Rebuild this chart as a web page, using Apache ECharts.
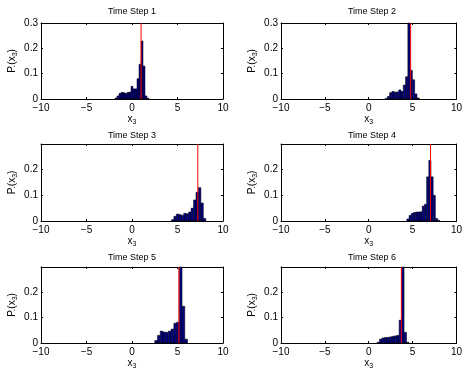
<!DOCTYPE html>
<html><head><meta charset="utf-8">
<script src="https://cdn.jsdelivr.net/npm/echarts@6/dist/echarts.min.js"></script>
<style>html,body{margin:0;padding:0;background:#fff}#c{width:465px;height:371px}</style>
</head><body><div id="c"></div>
<script>
// ---- data ----
const titles = ['Time Step 1', 'Time Step 2', 'Time Step 3', 'Time Step 4', 'Time Step 5', 'Time Step 6'];
const xTicks = [-10, -5, 0, 5, 10];
const yTicks = [0, 0.1, 0.2, 0.3];
const binStarts = [-1.87, 1.86, 4.33, 4.35, 2.5, 0.95];
const binWidths = [0.22, 0.26, 0.27, 0.25, 0.3, 0.28];
const counts1 = [0.004, 0.012, 0.022, 0.026, 0.025, 0.022, 0.026, 0.027, 0.05, 0.04, 0.04, 0.08, 0.137, 0.229, 0.13, 0.012, 0.003];
const counts2 = [0.002, 0.01, 0.025, 0.03, 0.027, 0.028, 0.036, 0.03, 0.055, 0.088, 0.4, 0.113, 0.076, 0.02, 0.004];
const counts3 = [0.005, 0.018, 0.027, 0.025, 0.022, 0.03, 0.028, 0.035, 0.05, 0.082, 0.112, 0.13, 0.07, 0.01];
const counts4 = [0.008, 0.022, 0.03, 0.033, 0.035, 0.035, 0.036, 0.058, 0.065, 0.172, 0.236, 0.172, 0.1, 0.01, 0.003];
const counts5 = [0.01, 0.03, 0.047, 0.043, 0.042, 0.047, 0.055, 0.078, 0.082, 0.4, 0.145, 0.015];
const counts6 = [0.003, 0.015, 0.02, 0.022, 0.022, 0.024, 0.026, 0.028, 0.03, 0.09, 0.4, 0.042, 0.003];
const allCounts = [counts1, counts2, counts3, counts4, counts5, counts6];
const truthValues = [1.0, 4.78, 7.23, 7.05, 5.15, 3.72];
const yMaxes = [0.3, 0.3, 0.2999, 0.2999, 0.2999, 0.2999];

// ---- layout ----
const FONT = 'Liberation Sans';
const plotW = 182, plotH = 76;
const lefts = [41, 281, 41, 281, 41, 281];
const tops = [23, 23, 144, 144, 267, 267];
const titleY = [12, 12, 135.5, 135.5, 257.5, 257.5];

function fmtX(v) { return v < 0 ? '\u2212' + (-v) : String(v); }
function fmtY(v) {
  const r = Math.round(v * 10) / 10;
  if (Math.abs(v - r) > 1e-6) return '';
  return r === 0 ? '0' : String(r);
}

function renderBins(params, api) {
  const x0 = api.value(0), x1 = api.value(1), v = api.value(2);
  const p0 = api.coord([x0, v]);
  const p1 = api.coord([x1, 0]);
  const cs = params.coordSys;
  const shape = echarts.graphic.clipRectByRect(
    { x: p0[0], y: p0[1], width: p1[0] - p0[0], height: p1[1] - p0[1] },
    { x: cs.x, y: cs.y, width: cs.width, height: cs.height });
  return shape && {
    type: 'rect', shape: shape,
    style: { fill: '#000080', stroke: '#000000', lineWidth: 0.5 }
  };
}

const nameRich = {
  a: { color: '#000', fontFamily: FONT, fontSize: 10 },
  b: { color: '#000', fontFamily: FONT, fontSize: 7, padding: [6, 0, 0, 0] }
};

const grid = [], xAxis = [], yAxis = [], series = [], graphic = [];
for (let i = 0; i < 6; i++) {
  grid.push({ left: lefts[i], top: tops[i], width: plotW, height: plotH + (i >= 2 && i < 4 ? 1 : 0) });
  const axLine = { show: true, onZero: false, lineStyle: { color: '#000', width: 1 } };
  const tick = { show: true, inside: true, length: 2, lineStyle: { color: '#000', width: 1 } };
  xAxis.push({
    type: 'value', gridIndex: i, position: 'bottom',
    min: xTicks[0], max: xTicks[xTicks.length - 1], interval: xTicks[1] - xTicks[0],
    axisLine: axLine, axisTick: tick, splitLine: { show: false },
    axisLabel: { formatter: fmtX, color: '#000', fontFamily: FONT, fontSize: 10, margin: 4 },
    name: '{a|x}{b|3}', nameLocation: 'middle', nameGap: 13,
    nameTextStyle: { color: '#000', fontFamily: FONT, fontSize: 10, rich: nameRich }
  });
  xAxis.push({
    type: 'value', gridIndex: i, position: 'top',
    min: xTicks[0], max: xTicks[xTicks.length - 1], interval: xTicks[1] - xTicks[0],
    axisLine: axLine, axisTick: tick, splitLine: { show: false }, axisLabel: { show: false }
  });
  yAxis.push({
    type: 'value', gridIndex: i, position: 'left',
    min: yTicks[0], max: yMaxes[i], interval: yTicks[1] - yTicks[0],
    axisLine: axLine, axisTick: tick, splitLine: { show: false },
    axisLabel: { formatter: fmtY, color: '#000', fontFamily: FONT, fontSize: 10, margin: 3 },
    name: '{a|P.(x}{b|3}{a|)}', nameLocation: 'middle', nameGap: 22,
    nameTextStyle: { color: '#000', fontFamily: FONT, fontSize: 10, rich: nameRich }
  });
  yAxis.push({
    type: 'value', gridIndex: i, position: 'right',
    min: yTicks[0], max: yMaxes[i], interval: yTicks[1] - yTicks[0],
    axisLine: axLine, axisTick: tick, splitLine: { show: false }, axisLabel: { show: false }
  });
  const data = allCounts[i].map((c, k) => [
    binStarts[i] + k * binWidths[i],
    binStarts[i] + (k + 1) * binWidths[i],
    c
  ]);
  series.push({
    type: 'custom', xAxisIndex: 2 * i, yAxisIndex: 2 * i,
    renderItem: renderBins, encode: { x: [0, 1], y: 2 }, data: data, silent: true, z: 2
  });
  series.push({
    type: 'line', xAxisIndex: 2 * i, yAxisIndex: 2 * i,
    data: [[truthValues[i], 0], [truthValues[i], yMaxes[i]]],
    symbol: 'none', lineStyle: { color: '#ff0000', width: 1 }, silent: true, z: 3
  });
  graphic.push({
    type: 'text', x: lefts[i] + plotW / 2, y: titleY[i],
    style: { text: titles[i], align: 'center', verticalAlign: 'middle',
      fontFamily: FONT, fontSize: 9, fill: '#000' }
  });
}

const chart = echarts.init(document.getElementById('c'), null, { renderer: 'canvas' });
chart.setOption({
  animation: false, backgroundColor: '#fff',
  grid, xAxis, yAxis, series, graphic
});
</script></body></html>
